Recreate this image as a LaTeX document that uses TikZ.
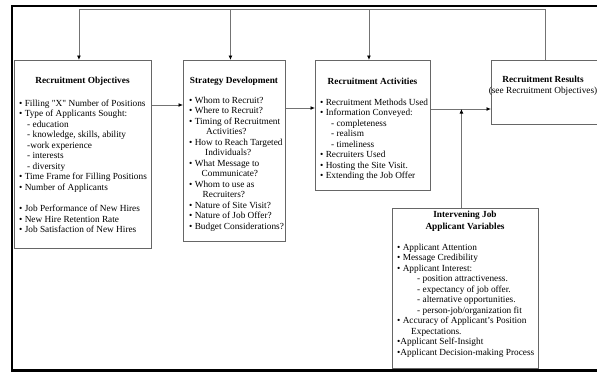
\documentclass[tikz,border=0pt]{standalone}
\usepackage{fontspec}
\setmainfont{Liberation Serif}
\newfontfamily\straightquotes{Liberation Serif}
\usetikzlibrary{arrows.meta}
\tikzset{
  stage/.style={draw=black!60, line width=0.9pt, inner sep=0pt, anchor=north west},
  heading/.style={font=\fontsize{9.3}{10.5}\selectfont\bfseries, align=center, inner sep=0pt},
  items/.style={font=\fontsize{9.3}{10.5}\selectfont, align=left, inner sep=0pt, anchor=north west},
  link/.style={draw=black!55, line width=0.9pt},
}
\begin{document}
\begin{tikzpicture}[x=1pt, y=-1pt, >={Latex[length=4.5pt, width=4pt, color=black]}]
    \useasboundingbox (0,0) rectangle (597,373);
    % outer frame, open on the right
    \draw[line width=2.5pt] (605,6) -- (12,6) -- (12,370.5) -- (605,370.5);

    % stage boxes
    \node[stage, minimum width=137pt, minimum height=188pt] (obj) at (14,60) {};
    \node[stage, minimum width=102pt, minimum height=181pt] (str) at (183,60) {};
    \node[stage, minimum width=115pt, minimum height=130pt] (act) at (315,60) {};
    \node[stage, minimum width=108pt, minimum height=64pt] (res) at (491,60) {};
    \node[stage, minimum width=146pt, minimum height=160pt] (var) at (392,208) {};

    % headings
    \node[heading] (objtitle) at (82.5,81) {Recruitment Objectives};
    \node[heading] (strtitle) at (234,81) {Strategy Development};
    \node[heading] (acttitle) at (372.5,81) {Recruitment Activities};
    \node[heading] (restitle) at (543,86) {Recruitment Results\\{\mdseries(see Recruitment Objectives)}};
    \node[heading] (vartitle) at (465,221) {Intervening Job\\[1.5pt]Applicant Variables};

    % contents
    \node[items] (objlist) at (19,99.5) {%
        • Filling {\straightquotes"X"} Number of Positions\\
        • Type of Applicants Sought:\\
        \hspace*{8pt}- education\\
        \hspace*{8pt}- knowledge, skills, ability\\
        \hspace*{8pt}-work experience\\
        \hspace*{8pt}- interests\\
        \hspace*{8pt}- diversity\\
        • Time Frame for Filling Positions\\
        • Number of Applicants\\[11pt]
        • Job Performance of New Hires\\
        • New Hire Retention Rate\\
        • Job Satisfaction of New Hires};
    \node[items] (strlist) at (189,96.5) {%
        • Whom to Recruit?\\
        • Where to Recruit?\\
        • Timing of Recruitment\\
        \hspace*{17pt}Activities?\\
        • How to Reach Targeted\\
        \hspace*{16pt}Individuals?\\
        • What Message to\\
        \hspace*{12.5pt}Communicate?\\
        • Whom to use as\\
        \hspace*{13.5pt}Recruiters?\\
        • Nature of Site Visit?\\
        • Nature of Job Offer?\\
        • Budget Considerations?};
    \node[items] (actlist) at (320,98.5) {%
        • Recruitment Methods Used\\
        • Information Conveyed:\\
        \hspace*{11pt}- completeness\\
        \hspace*{11pt}- realism\\
        \hspace*{11pt}- timeliness\\
        • Recruiters Used\\
        • Hosting the Site Visit.\\
        • Extending the Job Offer};
    \node[items] (varlist) at (397,243.5) {%
        • Applicant Attention\\
        • Message Credibility\\
        • Applicant Interest:\\
        \hspace*{20pt}- position attractiveness.\\
        \hspace*{20pt}- expectancy of job offer.\\
        \hspace*{20pt}- alternative opportunities.\\
        \hspace*{20pt}- person-job/organization fit\\
        • Accuracy of Applicant's Position\\
        \hspace*{14pt}Expectations.\\
        •Applicant Self-Insight\\
        •Applicant Decision-making Process};

    % flow between the stages
    \draw[link, ->] ([yshift=-45pt]obj.north east) -- ([yshift=-45pt]obj.north east -| str.west);
    \draw[link, ->] ([yshift=-48pt]str.north east) -- ([yshift=-48pt]str.north east -| act.west);
    \draw[link, ->] ([yshift=-49pt]act.north east) -- ([yshift=-49pt]act.north east -| res.west);
    \draw[link, ->] ([xshift=-4pt]var.north) -- ([xshift=-4pt, yshift=-49pt]var.north |- act.north);

    % feedback from the results
    \coordinate (top) at (0,9.5);
    \draw[link, ->] (res.north) -- (res.north |- top) -- ([xshift=-4pt]obj.north |- top) -- ([xshift=-4pt]obj.north);
    \draw[link, ->] ([xshift=-4pt]str.north |- top) -- ([xshift=-4pt]str.north);
    \draw[link, ->] ([xshift=-4pt]act.north |- top) -- ([xshift=-4pt]act.north);
\end{tikzpicture}
\end{document}
